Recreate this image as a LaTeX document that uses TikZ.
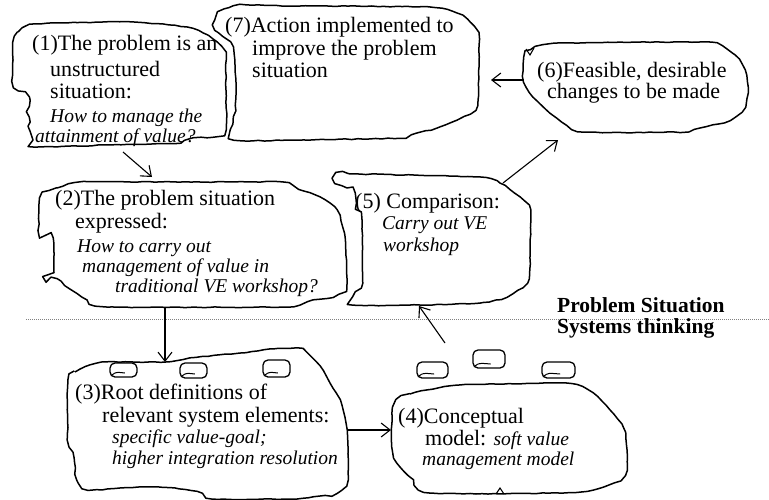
\documentclass[tikz,border=0pt]{standalone}
\usepackage{fontspec}
\setmainfont{Liberation Serif}
\usetikzlibrary{arrows.meta,decorations.pathmorphing}
\begin{document}
\begin{tikzpicture}[x=1pt,y=-1pt,
  blob/.style={draw=black, line width=1.5pt, fill=white, line join=round,
    decorate, decoration={random steps, segment length=6pt, amplitude=0.4pt}},
  scroll/.style={draw=black, line width=1.3pt, rounded corners=5pt},
  link/.style={draw=black, line width=1.1pt, -{Straight Barb[length=9pt,width=14pt]}},
  txt/.style={anchor=base west, inner sep=0pt, font=\fontsize{22}{24}\selectfont},
  itx/.style={txt, font=\fontsize{19.5}{22}\selectfont\itshape},
  hd/.style={txt, font=\fontsize{21.5}{24}\selectfont\bfseries},
  sep/.style={draw=gray, line width=0.8pt, dash pattern=on 1pt off 1pt},
]
\pgfmathsetseed{7}
\useasboundingbox (0,0) rectangle (769,499);

% ---- outlines of the stages ----
% (1)
\draw[blob] plot[smooth cycle, tension=0.35] coordinates {
  (13,42) (18,32) (30,25) (60,23) (133,22) (187,27) (203,33) (217,42)
  (225,53) (226,90) (226,130) (213,136) (193,138) (187,143) (110,145)
  (34,147) (33,140) (29,132) (30,122) (27,118) (29,112) (29,97) (14,87) (13,60)};
% (7)
\draw[blob] plot[smooth cycle, tension=0.35] coordinates {
  (220,13) (228,8) (240,5) (300,6) (430,7) (457,13) (470,22) (478,33)
  (479,60) (478,100) (475,110) (457,120) (437,128) (417,133) (400,138)
  (300,140) (234,140) (233,124) (235,117) (236,90) (235,67) (233,47)
  (223,37) (215,30) (215,20)};
% (6)
\draw[blob] plot[smooth cycle, tension=0.4] coordinates {
  (524,57) (530,50) (543,45) (560,43) (700,42) (717,44) (735,55) (745,70)
  (748,87) (745,107) (730,120) (700,128) (680,132) (583,132) (567,125)
  (550,113) (533,97) (524,82)};
% (2)
\draw[blob] plot[smooth cycle, tension=0.35] coordinates {
  (40,198) (57,188) (83,182) (200,182) (283,182) (293,187) (320,197)
  (337,210) (345,237) (347,283) (343,290) (333,297) (313,300) (300,305)
  (287,307) (107,307) (87,300) (70,289) (57,279) (46,282) (53,272)
  (53,238) (40,236)};
% (5)
\draw[blob] plot[smooth cycle, tension=0.35] coordinates {
  (337,173) (360,174) (480,177) (500,183) (520,197) (530,210) (530,267)
  (527,283) (507,297) (480,303) (420,305) (353,305) (353,297) (362,283)
  (362,220) (357,215) (355,193) (347,188) (335,183)};
% (3)
\draw[blob] plot[smooth cycle, tension=0.35] coordinates {
  (68,380) (75,372) (90,365) (107,362) (165,362) (190,358) (240,353)
  (273,349) (297,348) (307,353) (320,366) (330,383) (340,400) (347,430)
  (348,480) (337,493) (320,496) (290,499) (212,499) (203,493) (175,488)
  (150,487) (120,488) (88,490) (77,480) (74,458) (68,440)};
% (4)
\draw[blob] plot[smooth cycle, tension=0.4] coordinates {
  (397,400) (410,394) (427,390) (460,385) (560,383) (577,385) (593,393)
  (610,410) (623,427) (627,450) (627,470) (620,480) (593,490) (560,493)
  (430,493) (413,480) (397,463) (392,447) (392,413)};

% small marks on the outlines
\draw[line width=1.1pt] (526,49) -- (530,55) -- (534,48);
\draw[line width=1.1pt] (496,494) -- (500,488) -- (504,494);

% ---- system elements (small scrolls) ----
\foreach \x/\y/\w/\h in {110/363/27/14, 180/363/27/15, 263/360/27/17,
                         417/362/31/16, 473/350/32/18, 542/362/33/16}{
  \draw[scroll] (\x,\y+\h) -- (\x,\y) -- (\x+\w,\y) -- (\x+\w,\y+\h) -- cycle;
  \draw[line width=1pt] (\x+2,\y+\h-2) .. controls (\x+6,\y+\h-5) .. (\x+0.55*\w,\y+\h-4);
}

% ---- separator between the two worlds ----
\coordinate (sepL) at (26,319);
\coordinate (sepR) at (769,319);
\draw[sep] (sepL) -- (sepR);
\node[hd] (lblA) at (557,312) {Problem Situation};
\node[hd] (lblB) at (557,333) {Systems thinking};

% ---- texts ----
\node[txt] (t1a) at (32,50) {(1)The problem is an};
\node[txt] (t1b) at (50,76) {unstructured};
\node[txt] (t1c) at (50,98) {situation:};
\node[itx] (t1d) at (50,122) {How to manage the};
\node[itx] (t1e) at (35,142) {attainment of value?};

\node[txt] (t7a) at (225,32) {(7)Action implemented to};
\node[txt] (t7b) at (252,55) {improve the problem};
\node[txt] (t7c) at (252,77) {situation};

\node[txt] (t6a) at (537,77) {(6)Feasible, desirable};
\node[txt] (t6b) at (547,98) {changes to be made};

\node[txt] (t2a) at (55,205) {(2)The problem situation};
\node[txt] (t2b) at (75,228) {expressed:};
\node[itx] (t2c) at (77,252) {How to carry out};
\node[itx] (t2d) at (82,272) {management of value in};
\node[itx] (t2e) at (115,292) {traditional VE workshop?};

\node[txt] (t5a) at (355,208) {(5) Comparison:};
\node[itx] (t5b) at (382,229) {Carry out VE};
\node[itx] (t5c) at (383,251) {workshop};

\node[txt] (t3a) at (75,399) {(3)Root definitions of};
\node[txt] (t3b) at (102,422) {relevant system elements:};
\node[itx] (t3c) at (112,443) {specific value-goal;};
\node[itx] (t3d) at (112,464) {higher integration resolution};

\node[txt] (t4a) at (398,423) {(4)Conceptual};
\node[txt] (t4b) at (425,445) {model: {\fontsize{19.5}{22}\selectfont\itshape soft value}};
\node[itx] (t4c) at (422,465) {management model};

% ---- connectors ----
\coordinate (p1s) at (123,152);
\coordinate (p2n) at (152,177);
\coordinate (p2s) at (165,307);
\coordinate (p3n) at (165,362);
\coordinate (p3e) at (348,430);
\coordinate (p4w) at (391,430);
\coordinate (p4n) at (445,343);
\coordinate (p5s) at (419,306);
\coordinate (p5e) at (503,183);
\coordinate (p6s) at (558,140);
\coordinate (p6w) at (524,80);
\coordinate (p7e) at (491,80);

\draw[link] (p1s) -- (p2n);
\draw[link] (p2s) -- (p3n);
\draw[link] (p3e) -- (p4w);
\draw[link] (p4n) -- (p5s);
\draw[link] (p5e) -- (p6s);
\draw[link] (p6w) -- (p7e);
\end{tikzpicture}
\end{document}
